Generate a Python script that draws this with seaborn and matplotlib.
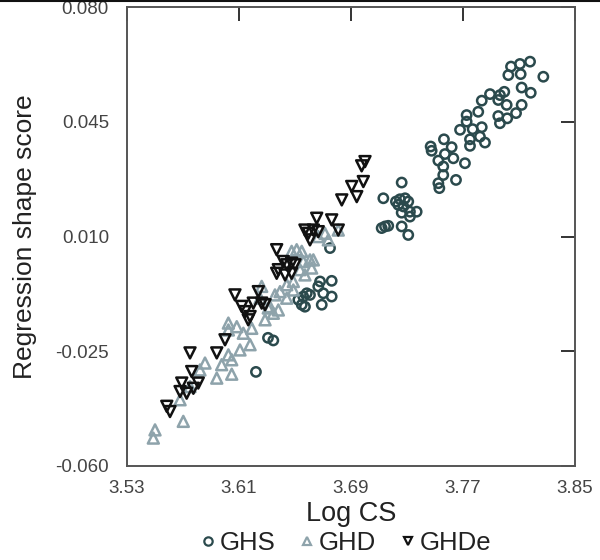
import numpy as np
import pandas as pd
import seaborn as sns
import matplotlib.pyplot as plt
from matplotlib.lines import Line2D

# Valeurs
ghs_x = [3.8179, 3.8107, 3.8043, 3.8024, 3.8112, 3.8274, 3.8119, 3.8184, 3.7995, 3.7964,
         3.7952, 3.7893, 3.7834, 3.8012, 3.8119, 3.8079, 3.7952, 3.8016, 3.7964, 3.7809,
         3.7726, 3.7726, 3.7679, 3.7769, 3.7834, 3.7821, 3.7750, 3.7857, 3.7750, 3.7564,
         3.7619, 3.7469, 3.7476, 3.7571, 3.7524, 3.7631, 3.7714, 3.7559, 3.7559, 3.7650,
         3.7524, 3.7531,
         3.7262, 3.7131, 3.7221, 3.7250, 3.7286, 3.7309, 3.7238, 3.7274, 3.7262, 3.7321,
         3.7369, 3.7321, 3.7143, 3.7166, 3.7119, 3.7262, 3.7309,
         3.6750, 3.6679, 3.6762, 3.6666, 3.6702, 3.6762, 3.6584, 3.6559, 3.6607, 3.6524,
         3.6548, 3.6571, 3.6691, 3.6307, 3.6345, 3.6221]
ghs_y = [0.0634, 0.0627, 0.0619, 0.0593, 0.0596, 0.0588, 0.0555, 0.0539, 0.0542, 0.0532,
         0.0517, 0.0535, 0.0515, 0.0502, 0.0502, 0.0477, 0.0468, 0.0461, 0.0446, 0.0481,
         0.0471, 0.0451, 0.0426, 0.0428, 0.0434, 0.0405, 0.0397, 0.0387, 0.0377, 0.0397,
         0.0373, 0.0375, 0.0362, 0.0352, 0.0332, 0.0339, 0.0324, 0.0314, 0.0288, 0.0273,
         0.0263, 0.0248,
         0.0265, 0.0217, 0.0207, 0.0214, 0.0217, 0.0207, 0.0197, 0.0192, 0.0173, 0.0176,
         0.0176, 0.0161, 0.0131, 0.0133, 0.0126, 0.0131, 0.0105,
         0.0065, -0.0037, -0.0035, -0.0052, -0.0073, -0.0083, -0.0073, -0.0083, -0.0078, -0.0093,
         -0.0108, -0.0114, -0.0108, -0.0209, -0.0217, -0.0313]

ghd_x = [3.6512, 3.6548, 3.6476, 3.6714, 3.6738, 3.6809, 3.6559, 3.6607, 3.6619, 3.6536,
         3.6571, 3.6488, 3.6441, 3.6488, 3.6393, 3.6357, 3.6441, 3.6309, 3.6381, 3.6262,
         3.6250, 3.6321, 3.6345, 3.6024, 3.6084, 3.6191, 3.6286, 3.6131, 3.6179, 3.6107,
         3.6024, 3.6048, 3.5857, 3.5976, 3.5821, 3.5941, 3.5750, 3.5679, 3.5702, 3.5500,
         3.5488, 3.6631, 3.6666, 3.6024, 3.6048]
ghd_y = [0.0060, 0.0055, 0.0055, 0.0110, 0.0090, 0.0120, 0.0024, 0.0029, 0.0004, -0.0001,
         -0.0017, -0.0037, -0.0047, -0.0063, -0.0068, -0.0078, -0.0088, -0.0118, -0.0124, -0.0052,
         -0.0088, -0.0114, -0.0134, -0.0164, -0.0175, -0.0180, -0.0154, -0.0195, -0.0230, -0.0246,
         -0.0261, -0.0276, -0.0286, -0.0291, -0.0307, -0.0332, -0.0358, -0.0398, -0.0464, -0.0490,
         -0.0515, 0.0029, 0.0100, -0.0185, -0.0320]

ghde_x = [3.7000, 3.6976, 3.6988, 3.6905, 3.6941, 3.6834, 3.6655, 3.6762, 3.6809, 3.6571,
          3.6631, 3.6595, 3.6666, 3.6607, 3.6369, 3.6416, 3.6441, 3.6476, 3.6381, 3.6429,
          3.6500, 3.6476, 3.6369, 3.6238, 3.6262, 3.6286, 3.6071, 3.6202, 3.6119, 3.6143,
          3.6179, 3.6166, 3.6000, 3.5941, 3.5750, 3.5762, 3.5691, 3.5809, 3.5679, 3.5726,
          3.5774, 3.5584, 3.5607]
ghde_y = [0.0329, 0.0316, 0.0268, 0.0253, 0.0222, 0.0212, 0.0156, 0.0151, 0.0120, 0.0120,
          0.0120, 0.0110, 0.0115, 0.0090, 0.0060, 0.0024, 0.0014, 0.0019, -0.0001, -0.0017,
          0.0014, -0.0012, -0.0012, -0.0068, -0.0103, -0.0108, -0.0078, -0.0103, -0.0113, -0.0129,
          -0.0144, -0.0154, -0.0215, -0.0255, -0.0255, -0.0312, -0.0347, -0.0347, -0.0373, -0.0378,
          -0.0363, -0.0418, -0.0434]

x_ticks = [3.53, 3.61, 3.69, 3.77, 3.85]
y_ticks = [-0.060, -0.025, 0.010, 0.045, 0.080]

groups = ['GHS', 'GHD', 'GHDe']
couleurs = {'GHS': '#2b4a4d', 'GHD': '#8ea3ab', 'GHDe': '#111111'}
marqueurs = {'GHS': 'o', 'GHD': '^', 'GHDe': 'v'}
tailles = {'GHS': 45, 'GHD': 62, 'GHDe': 62}

df = pd.concat([
    pd.DataFrame({'x': ghs_x, 'y': ghs_y, 'groupe': 'GHS'}),
    pd.DataFrame({'x': ghd_x, 'y': ghd_y, 'groupe': 'GHD'}),
    pd.DataFrame({'x': ghde_x, 'y': ghde_y, 'groupe': 'GHDe'}),
])

sns.set_style('white')
plt.rcParams['font.family'] = ['Liberation Sans', 'DejaVu Sans']

fig = plt.figure(figsize=(6, 5.6), dpi=100)
ax = fig.add_axes([0.2117, 0.168, 0.7466, 0.819])

for g in groups:
    sub = df[df['groupe'] == g]
    sns.scatterplot(data=sub, x='x', y='y', ax=ax, marker=marqueurs[g], s=tailles[g],
                    facecolor='none', edgecolor=couleurs[g], linewidth=1.8, legend=False)

ax.set_xlim(3.53, 3.85)
ax.set_ylim(-0.060, 0.080)
ax.set_xticks(x_ticks)
ax.set_yticks(y_ticks)
ax.set_xticklabels([f'{v:.2f}' for v in x_ticks])
ax.set_yticklabels([f'{v:.3f}' for v in y_ticks])
ax.tick_params(direction='in', length=10, width=1.2, color='#111111',
               top=True, right=True, labelsize=13.5, labelcolor='#444444')
ax.tick_params(axis='y', pad=13)
ax.tick_params(axis='x', pad=10)
for sp in ax.spines.values():
    sp.set_color('#555555')
    sp.set_linewidth(1.4)

ax.set_xlabel('Log CS', fontsize=19.5, color='#222222', labelpad=3)
ax.set_ylabel('Regression shape score', fontsize=19, color='#222222', labelpad=13)

handles = [Line2D([], [], linestyle='none', marker=marqueurs[g], markersize=6,
                  markerfacecolor='none', markeredgecolor=couleurs[g], markeredgewidth=1.6)
           for g in groups]
fig.legend(handles, groups, loc='lower center', bbox_to_anchor=(0.575, -0.032), ncol=3,
           frameon=False, fontsize=18.5, handletextpad=0.1, columnspacing=0.9,
           handlelength=0.7, labelcolor='#222222')

fig.add_artist(Line2D([0, 1], [0.999, 0.999], transform=fig.transFigure, color='#111111', lw=1.5))

fig.savefig('out.png', dpi=100)
